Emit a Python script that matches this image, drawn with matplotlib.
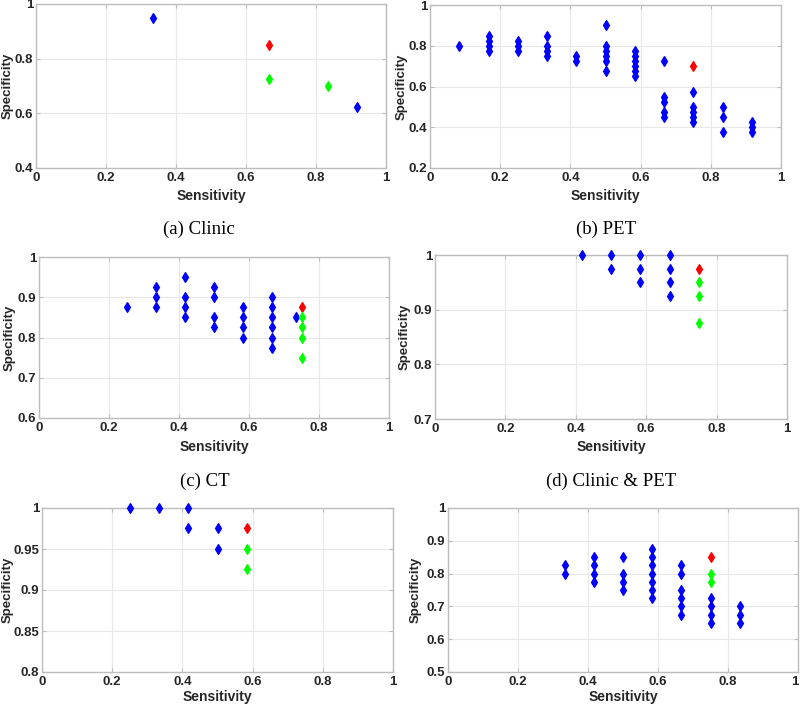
import matplotlib
matplotlib.use("Agg")
import matplotlib.pyplot as plt
import numpy as np

W, H = 800, 707

# ---------------- data ----------------
# (a) Clinic
a_blue_x = [4/12, 11/12]
a_blue_y = [0.95, 0.625]
a_red_x = [8/12]
a_red_y = [0.85]
a_green_x = [8/12, 10/12]
a_green_y = [0.725, 0.70]

# (b) PET
b_blue_x = [1/12,
            2/12, 2/12, 2/12, 2/12,
            3/12, 3/12, 3/12,
            4/12, 4/12, 4/12, 4/12,
            5/12, 5/12,
            6/12, 6/12, 6/12, 6/12, 6/12, 6/12,
            7/12, 7/12, 7/12, 7/12, 7/12, 7/12,
            8/12, 8/12, 8/12, 8/12, 8/12,
            9/12, 9/12, 9/12, 9/12, 9/12,
            10/12, 10/12, 10/12,
            11/12, 11/12, 11/12]
b_blue_y = [0.80,
            0.775, 0.80, 0.825, 0.85,
            0.775, 0.80, 0.825,
            0.75, 0.775, 0.80, 0.85,
            0.725, 0.75,
            0.675, 0.725, 0.75, 0.775, 0.80, 0.90,
            0.65, 0.675, 0.70, 0.725, 0.75, 0.775,
            0.45, 0.475, 0.525, 0.55, 0.725,
            0.425, 0.45, 0.475, 0.50, 0.575,
            0.375, 0.45, 0.50,
            0.375, 0.40, 0.425]
b_red_x = [9/12]
b_red_y = [0.70]
b_green_x = []
b_green_y = []

# (c) CT
c_blue_x = [3/12,
            4/12, 4/12, 4/12,
            5/12, 5/12, 5/12, 5/12,
            6/12, 6/12, 6/12, 6/12,
            7/12, 7/12, 7/12, 7/12,
            8/12, 8/12, 8/12, 8/12, 8/12, 8/12,
            0.733]
c_blue_y = [0.875,
            0.875, 0.90, 0.925,
            0.85, 0.875, 0.90, 0.95,
            0.825, 0.85, 0.90, 0.925,
            0.80, 0.825, 0.85, 0.875,
            0.775, 0.80, 0.825, 0.85, 0.875, 0.90,
            0.85]
c_red_x = [9/12]
c_red_y = [0.875]
c_green_x = [9/12, 9/12, 9/12, 9/12]
c_green_y = [0.85, 0.825, 0.80, 0.75]

# (d) Clinic & PET
d_blue_x = [5/12,
            6/12, 6/12,
            7/12, 7/12, 7/12,
            8/12, 8/12, 8/12, 8/12]
d_blue_y = [1.0,
            1.0, 0.975,
            1.0, 0.975, 0.95,
            1.0, 0.975, 0.95, 0.925]
d_red_x = [9/12]
d_red_y = [0.975]
d_green_x = [9/12, 9/12, 9/12]
d_green_y = [0.95, 0.925, 0.875]

# (e)
e_blue_x = [3/12, 4/12, 5/12, 5/12, 6/12, 6/12]
e_blue_y = [1.0, 1.0, 1.0, 0.975, 0.975, 0.95]
e_red_x = [7/12]
e_red_y = [0.975]
e_green_x = [7/12, 7/12]
e_green_y = [0.95, 0.925]

# (f)
f_blue_x = [4/12, 4/12,
            5/12, 5/12, 5/12, 5/12,
            6/12, 6/12, 6/12, 6/12,
            7/12, 7/12, 7/12, 7/12, 7/12, 7/12, 7/12,
            8/12, 8/12, 8/12, 8/12, 8/12, 8/12,
            9/12, 9/12, 9/12, 9/12,
            10/12, 10/12, 10/12]
f_blue_y = [0.80, 0.825,
            0.775, 0.80, 0.825, 0.85,
            0.75, 0.775, 0.80, 0.85,
            0.725, 0.75, 0.775, 0.80, 0.825, 0.85, 0.875,
            0.675, 0.70, 0.725, 0.75, 0.80, 0.825,
            0.65, 0.675, 0.70, 0.725,
            0.65, 0.675, 0.70]
f_red_x = [9/12]
f_red_y = [0.85]
f_green_x = [9/12, 9/12]
f_green_y = [0.80, 0.775]

x_ticks = [0, 0.2, 0.4, 0.6, 0.8, 1]
x_tick_labels = ["0", "0.2", "0.4", "0.6", "0.8", "1"]

panels = [
    dict(blue=(a_blue_x, a_blue_y), red=(a_red_x, a_red_y), green=(a_green_x, a_green_y),
         ylim=(0.4, 1), yticks=[0.4, 0.6, 0.8, 1], ylabels=["0.4", "0.6", "0.8", "1"],
         box=(36, 386, 4, 168), caption="(a) Clinic", cap=(199, 229), ylx=8, xly=196),
    dict(blue=(b_blue_x, b_blue_y), red=(b_red_x, b_red_y), green=(b_green_x, b_green_y),
         ylim=(0.2, 1), yticks=[0.2, 0.4, 0.6, 0.8, 1], ylabels=["0.2", "0.4", "0.6", "0.8", "1"],
         box=(430, 781, 5, 168), caption="(b) PET", cap=(606, 229), ylx=402, xly=196),
    dict(blue=(c_blue_x, c_blue_y), red=(c_red_x, c_red_y), green=(c_green_x, c_green_y),
         ylim=(0.6, 1), yticks=[0.6, 0.7, 0.8, 0.9, 1], ylabels=["0.6", "0.7", "0.8", "0.9", "1"],
         box=(39, 389, 257, 418), caption="(c) CT", cap=(205, 481), ylx=10, xly=447),
    dict(blue=(d_blue_x, d_blue_y), red=(d_red_x, d_red_y), green=(d_green_x, d_green_y),
         ylim=(0.7, 1), yticks=[0.7, 0.8, 0.9, 1], ylabels=["0.7", "0.8", "0.9", "1"],
         box=(435, 787, 255, 419), caption="(d) Clinic & PET", cap=(611, 481), ylx=405, xly=447),
    dict(blue=(e_blue_x, e_blue_y), red=(e_red_x, e_red_y), green=(e_green_x, e_green_y),
         ylim=(0.8, 1), yticks=[0.8, 0.85, 0.9, 0.95, 1], ylabels=["0.8", "0.85", "0.9", "0.95", "1"],
         box=(42, 393, 508, 672), caption=None, cap=None, ylx=8, xly=697),
    dict(blue=(f_blue_x, f_blue_y), red=(f_red_x, f_red_y), green=(f_green_x, f_green_y),
         ylim=(0.5, 1), yticks=[0.5, 0.6, 0.7, 0.8, 0.9, 1], ylabels=["0.5", "0.6", "0.7", "0.8", "0.9", "1"],
         box=(448, 798, 508, 672), caption=None, cap=None, ylx=416, xly=697),
]

TXT = "#262626"
SPINE = "#bdbdbd"
fig = plt.figure(figsize=(W / 100, H / 100), dpi=100)

for p in panels:
    l, r, t, b = p["box"]
    ax = fig.add_axes([l / W, 1 - b / H, (r - l) / W, (b - t) / H])
    for key, col in (("blue", "#0000ff"), ("red", "#ff0000"), ("green", "#00ff00")):
        xs, ys = p[key]
        if len(xs):
            ax.plot(xs, ys, linestyle="none", marker="d", markersize=5,
                    markerfacecolor=col, markeredgecolor=col, markeredgewidth=0.9,
                    zorder=3, clip_on=False)
    ax.set_xlim(0, 1)
    ax.set_ylim(*p["ylim"])
    ax.set_xticks(x_ticks)
    ax.set_xticklabels(x_tick_labels)
    ax.set_yticks(p["yticks"])
    ax.set_yticklabels(p["ylabels"])
    ax.grid(True, color="#e8e8e8", linewidth=0.8)
    ax.set_axisbelow(True)
    for s in ax.spines.values():
        s.set_color(SPINE)
        s.set_linewidth(1.0)
    ax.tick_params(direction="in", length=3, width=0.8, color=SPINE,
                   top=True, right=True, labelsize=9.5, labelcolor=TXT)
    ax.tick_params(axis="y", pad=2)
    ax.tick_params(axis="x", pad=3)
    for lab in ax.get_xticklabels() + ax.get_yticklabels():
        lab.set_fontfamily("Liberation Sans")
        lab.set_fontweight("bold")
    if r > W - 5:
        ax.get_xticklabels()[-1].set_horizontalalignment("right")
    ax.set_xlabel("Sensitivity", fontsize=10, fontweight="bold", color=TXT,
                  fontfamily="Liberation Sans", va="center")
    ax.set_ylabel("Specificity", fontsize=9.5, fontweight="bold", color=TXT,
                  fontfamily="Liberation Sans", va="center")
    ax.xaxis.set_label_coords(0.5, -(p["xly"] - b) / (b - t))
    ax.yaxis.set_label_coords((p["ylx"] - l) / (r - l), 0.5)
    if p["caption"]:
        cx, cy = p["cap"]
        fig.text(cx / W, 1 - cy / H, p["caption"], ha="center", va="center",
                 fontsize=13.5, fontfamily="Liberation Serif", color="black")

fig.savefig("out.png", dpi=100)
